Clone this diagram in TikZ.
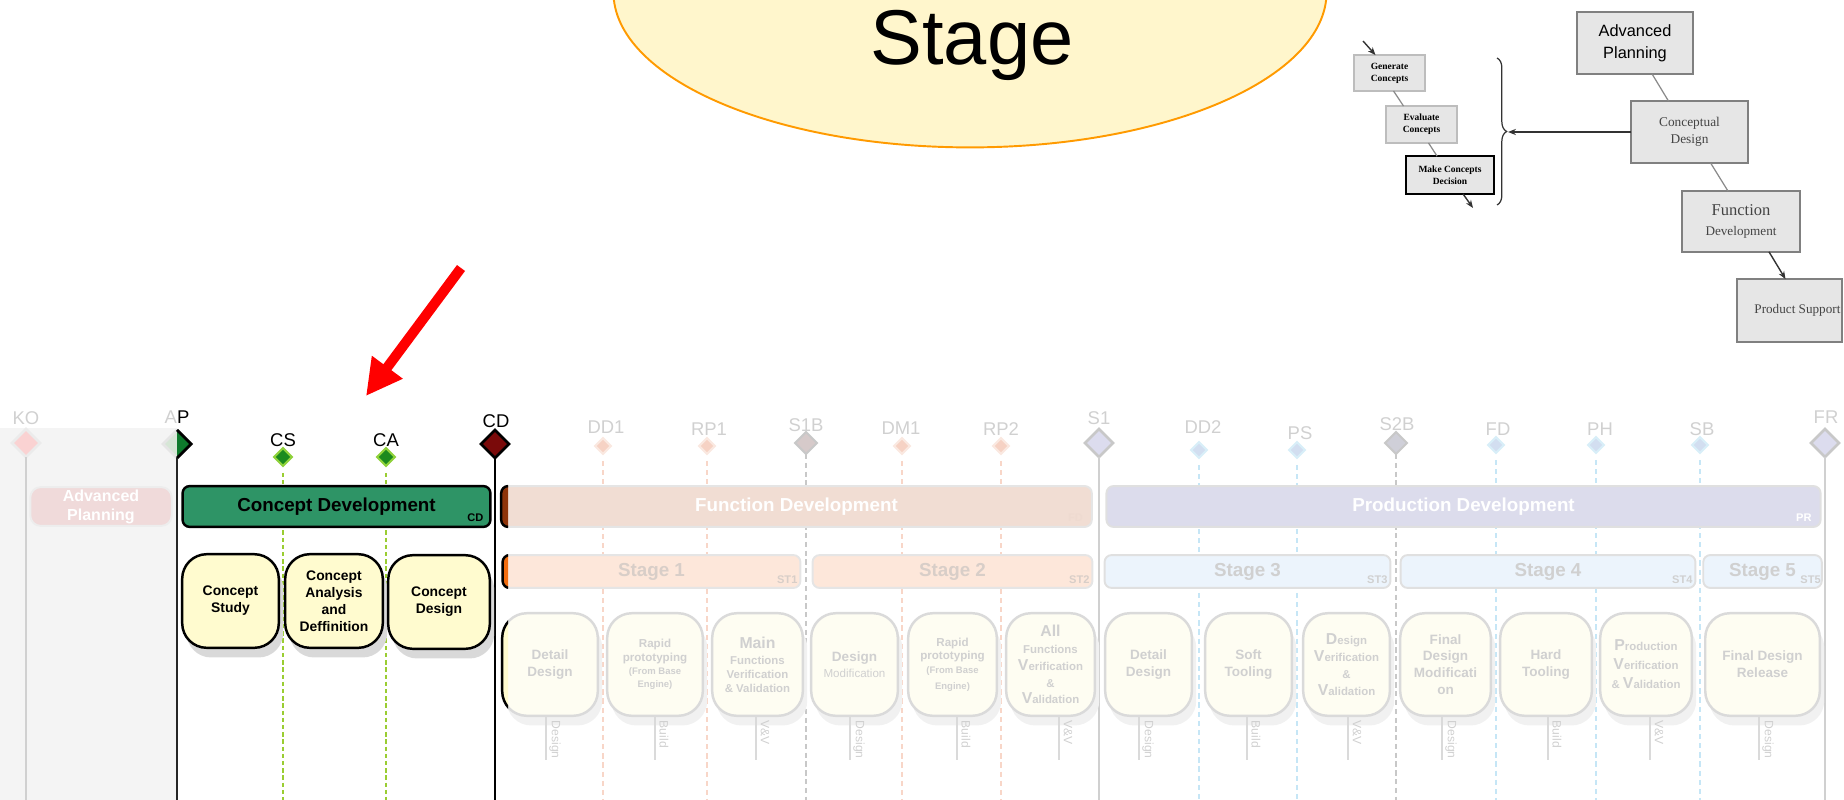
\documentclass[tikz,border=0pt]{standalone}
\usepackage{fontspec}
\setmainfont{Liberation Sans}
\newfontfamily\timesfam{Liberation Serif}
\usetikzlibrary{arrows.meta,shapes.geometric,decorations.pathreplacing,calc,shadows}

% palette
\definecolor{bubblefill}{HTML}{FFF6CC}
\definecolor{bubbleline}{HTML}{FF9A00}
\definecolor{cdgreen}{HTML}{2E9466}
\definecolor{msgreen}{HTML}{1B8A1E}
\definecolor{mslime}{HTML}{8ED13A}
\definecolor{dashgreen}{HTML}{9ACD32}
\definecolor{cdred}{HTML}{7A0A0A}
\definecolor{apgreen}{HTML}{0E7A2C}
\definecolor{apfade}{HTML}{D6E6D6}
\definecolor{actfill}{HTML}{FFFBCF}
\definecolor{panel}{HTML}{F4F4F4}
\definecolor{fadetext}{HTML}{D0D0D0}
\definecolor{fadeline}{HTML}{DADADA}
\definecolor{fadebox}{HTML}{FEFDF2}
\definecolor{fadeshadow}{HTML}{F1F1F1}
\definecolor{fdfill}{HTML}{F1DDD3}
\definecolor{fdtag}{HTML}{EEDAD0}
\definecolor{prfill}{HTML}{DCDCEC}
\definecolor{stwarm}{HTML}{FDE7DA}
\definecolor{stcool}{HTML}{ECF4FC}
\definecolor{stwarmtext}{HTML}{D8CEC8}
\definecolor{apbarfill}{HTML}{F0DADA}
\definecolor{kofill}{HTML}{FAD2D2}
\definecolor{salmonfill}{HTML}{F6D2C4}
\definecolor{salmonedge}{HTML}{FAE8E0}
\definecolor{salmondash}{HTML}{F8D6C8}
\definecolor{skyfill}{HTML}{D2DEF0}
\definecolor{skyedge}{HTML}{D8EEF8}
\definecolor{skydash}{HTML}{C6E6F6}
\definecolor{graydash}{HTML}{C8C8C8}
\definecolor{graysolid}{HTML}{D0D0D0}
\definecolor{s1bfill}{HTML}{D6CACA}
\definecolor{s2bfill}{HTML}{CFCFD8}
\definecolor{lavfill}{HTML}{DCDCEE}
\definecolor{boxgray}{HTML}{E6E6E6}
\definecolor{tline}{HTML}{808080}
\definecolor{sline}{HTML}{BDBDBD}
\definecolor{linkgray}{HTML}{8A8A8A}
\definecolor{ttext}{HTML}{444444}
\definecolor{fdbrown}{HTML}{8E340A}
\definecolor{storange}{HTML}{F26D10}

% box given by its corners (x1,y1)-(x2,y2) in picture units
\newcommand{\boxnode}[7]{%
  \pgfmathsetmacro\mybw{(#5-#3)*0.5669}%
  \pgfmathsetmacro\mybh{(#6-#4)*0.5669}%
  \node[#2, minimum width=\mybw pt, minimum height=\mybh pt] (#1) at ({(#3+#5)/2},{(#4+#6)/2}) {#7};}

\begin{document}
\begin{tikzpicture}[x=0.02cm, y=-0.02cm,
  every node/.style={inner sep=0pt, outer sep=0pt},
  msl/.style={font=\fontsize{10.5}{12}\selectfont},
  msf/.style={msl, text=fadetext},
  bigdia/.style={diamond, minimum width=16pt, minimum height=16pt, line width=1.5pt},
  meddia/.style={diamond, minimum width=12.5pt, minimum height=12.5pt, line width=1.2pt},
  smalldia/.style={diamond, minimum width=10pt, minimum height=10pt, line width=1.2pt},
  tinydia/.style={diamond, minimum width=9pt, minimum height=9pt, line width=1.2pt},
  kolin/.style={draw=graysolid, line width=1.6pt},
  aplin/.style={draw=black!85, line width=0.9pt},
  cdlin/.style={draw=black, line width=1.4pt},
  greendash/.style={draw=dashgreen, line width=1.4pt, dash pattern=on 2.5pt off 1.6pt},
  warmdash/.style={draw=salmondash, line width=1.2pt, dash pattern=on 3pt off 2.2pt},
  cooldash/.style={draw=skydash, line width=1.2pt, dash pattern=on 3pt off 2.2pt},
  greydash/.style={draw=graydash, line width=1.4pt, dash pattern=on 3pt off 2pt},
  greysolid/.style={draw=graysolid, line width=1.5pt},
  bar/.style={rectangle, rounded corners=4pt, line width=1.1pt, align=center,
    font=\bfseries\fontsize{10.7}{12}\selectfont},
  tag/.style={font=\bfseries\fontsize{6.3}{7}\selectfont, anchor=south east},
  actbase/.style={rectangle, rounded corners=14pt, line width=1.4pt, align=center},
  act/.style={actbase, fill=actfill, draw=black, font=\bfseries\fontsize{7.9}{9.6}\selectfont,
    general shadow={fill=black!15, shadow xshift=2.5pt, shadow yshift=-5.5pt}},
  fact/.style={actbase, fill=fadebox, draw=fadeline, text=fadetext,
    font=\bfseries\fontsize{7.7}{9.6}\selectfont,
    general shadow={fill=fadeshadow, shadow xshift=2.5pt, shadow yshift=-5.5pt}},
  stem/.style={draw=fadeline, line width=1.2pt},
  stemlab/.style={rotate=-90, anchor=west, text=fadetext, font=\fontsize{6.9}{8}\selectfont},
  tbox/.style={rectangle, fill=boxgray, draw=tline, line width=0.9pt, align=center},
  sbox/.style={rectangle, fill=boxgray, draw=sline, line width=1pt, align=center,
    font=\timesfam\bfseries\fontsize{5.4}{6.8}\selectfont},
  tlink/.style={draw=linkgray, line width=0.7pt},
  tarrow/.style={draw=black!80, line width=0.8pt, -{Stealth[length=4.5pt, width=3.5pt]}},
]
\useasboundingbox (0,0) rectangle (1844,800);
\clip (0,0) rectangle (1844,800);

% ---------------- title bubble ----------------
\node[ellipse, fill=bubblefill, draw=bubbleline, line width=1.1pt,
      minimum width=405.9pt, minimum height=176.9pt] (bubble) at (970,-8) {};
\node[anchor=base, font=\fontsize{44.2}{50}\selectfont] (stagetitle) at (972,65) {Stage};

% ---------------- pointer arrow ----------------
\coordinate (rtail) at (461,268);
\coordinate (rtip) at (366,396);
\draw[red, line width=5.7pt, -{Triangle[length=20.4pt, width=20.4pt]}] (rtail) -- (rtip);

% ---------------- process flow (top right) ----------------
\boxnode{tap}{tbox, font=\fontsize{9.3}{12.5}\selectfont}{1577}{12}{1693}{74}{Advanced\\Planning}
\boxnode{tcd}{tbox, text=ttext, font=\timesfam\fontsize{7.6}{9.6}\selectfont}{1631}{101}{1748}{163}{Conceptual\\Design}
\boxnode{tfd}{tbox, text=ttext, font=\timesfam\fontsize{7.5}{11.3}\selectfont}{1682}{191}{1800}{252}{{\fontsize{9.4}{11}\selectfont Function}\\Development}
\boxnode{tps}{tbox, text=ttext, font=\timesfam\fontsize{7.5}{9}\selectfont}{1737}{279}{1842}{342}{\hspace{9pt}Product Support}
\draw[tlink] ($(tap.south)+(17,0)$) -- ($(tcd.north)+(-21,0)$);
\draw[tlink] ($(tcd.south)+(21,0)$) -- ($(tfd.north)+(-13,0)$);
\draw[tarrow] ($(tfd.south)+(28,0)$) -- ($(tps.north)+(-4,0)$);

\boxnode{gen}{sbox}{1354}{55}{1425}{91}{Generate\\Concepts}
\boxnode{eva}{sbox}{1386}{106}{1457}{143}{Evaluate\\Concepts}
\boxnode{mak}{sbox, draw=black, line width=0.8pt}{1406}{156}{1494}{194}{Make Concepts\\Decision}
\coordinate (genin) at (1363,41);
\coordinate (makout) at (1473,208);
\draw[tarrow] (genin) -- ($(gen.north)+(-14,0)$);
\draw[tlink] ($(gen.south)+(4,0)$) -- ($(eva.north)+(-18,0)$);
\draw[tlink] ($(eva.south)+(7,0)$) -- ($(mak.north)+(-13,0)$);
\draw[tarrow] ($(mak.south)+(13,0)$) -- (makout);
\coordinate (bracetop) at (1497,58);
\coordinate (bracebot) at (1497,205);
\coordinate (bracetip) at (1508,132);
\draw[black!80, line width=0.7pt, decorate, decoration={brace, amplitude=5.5pt}] (bracetop) -- (bracebot);
\draw[tarrow] (tcd.west) -- (bracetip);

% ---------------- timeline ----------------
\fill[panel] (0,428) rectangle (177,800);

% milestone markers
\node[bigdia, fill=kofill, draw=black!8] (ko) at (26,443) {};
\node[bigdia] (ap) at (177,444) {};
\fill[apfade] (ap.north) -- (ap.west) -- (ap.south) -- cycle;
\draw[black!10, line width=1.5pt] (ap.north) -- (ap.west) -- (ap.south);
\fill[apgreen] (ap.north) -- (ap.east) -- (ap.south) -- cycle;
\draw[black, line width=1.6pt, line join=miter] (ap.north) -- (ap.east) -- (ap.south);
\node[smalldia, fill=msgreen, draw=mslime] (cs) at (283,457) {};
\node[smalldia, fill=msgreen, draw=mslime] (ca) at (386,457) {};
\node[bigdia, fill=cdred, draw=black] (cd) at (495,444) {};
\node[tinydia, fill=salmonfill, draw=salmonedge] (dd1) at (603,446) {};
\node[tinydia, fill=salmonfill, draw=salmonedge] (rp1) at (707,446) {};
\node[meddia, fill=s1bfill, draw=graydash] (s1b) at (806,443) {};
\node[tinydia, fill=salmonfill, draw=salmonedge] (dm1) at (902,446) {};
\node[tinydia, fill=salmonfill, draw=salmonedge] (rp2) at (1001,446) {};
\node[bigdia, fill=lavfill, draw=graydash] (s1) at (1099,443) {};
\node[tinydia, fill=skyfill, draw=skyedge] (dd2) at (1199,450) {};
\node[tinydia, fill=skyfill, draw=skyedge] (ps) at (1297,450) {};
\node[meddia, fill=s2bfill, draw=graydash] (s2b) at (1396,443) {};
\node[tinydia, fill=skyfill, draw=skyedge] (fd) at (1496,445) {};
\node[tinydia, fill=skyfill, draw=skyedge] (ph) at (1596,445) {};
\node[tinydia, fill=skyfill, draw=skyedge] (sb) at (1700,445) {};
\node[bigdia, fill=lavfill, draw=graydash] (fr) at (1825,443) {};

% milestone names
\node[msf] (ko-l) at (26,418) {KO};
\node[msl] (ap-l) at (177,417) {{\color{fadetext}A}P};
\node[msl] (cs-l) at (283,440) {CS};
\node[msl] (ca-l) at (386,440) {CA};
\node[msl] (cd-l) at (496,421) {CD};
\node[msf] (dd1-l) at (606,427) {DD1};
\node[msf] (rp1-l) at (709,429) {RP1};
\node[msf] (s1b-l) at (806,425) {S1B};
\node[msf] (dm1-l) at (901,428) {DM1};
\node[msf] (rp2-l) at (1001,429) {RP2};
\node[msf] (s1-l) at (1099,418) {S1};
\node[msf] (dd2-l) at (1203,427) {DD2};
\node[msf] (ps-l) at (1300,433) {PS};
\node[msf] (s2b-l) at (1397,424) {S2B};
\node[msf] (fd-l) at (1498,429) {FD};
\node[msf] (ph-l) at (1600,429) {PH};
\node[msf] (sb-l) at (1702,429) {SB};
\node[msf] (fr-l) at (1826,417) {FR};

% milestone lines
\foreach \m/\x in {ko/26,ap/177,cs/283,ca/386,cd/495,dd1/603,rp1/707,s1b/806,dm1/902,rp2/1001,
                   s1/1099,dd2/1199,ps/1297,s2b/1396,fd/1496,ph/1596,sb/1700,fr/1825}
  \coordinate (\m-end) at (\x,800);
\draw[kolin] (ko) -- (ko-end);
\draw[aplin] (ap) -- (ap-end);
\draw[greendash] ([yshift=-4pt]cs.south) -- (cs-end);
\draw[greendash] ([yshift=-4pt]ca.south) -- (ca-end);
\draw[cdlin] (cd) -- (cd-end);
\foreach \m in {dd1,rp1,dm1,rp2} \draw[warmdash] ([yshift=-4pt]\m.south) -- (\m-end);
\foreach \m in {dd2,ps,fd,ph,sb} \draw[cooldash] ([yshift=-4pt]\m.south) -- (\m-end);
\draw[greydash] (s1b) -- (s1b-end);
\draw[greydash] (s2b) -- (s2b-end);
\draw[greysolid] (s1) -- (s1-end);
\draw[greysolid] (fr) -- (fr-end);

% phase bars
\boxnode{apbar}{bar, rounded corners=6pt, fill=apbarfill, draw=black!7, text=white, font=\bfseries\fontsize{9.1}{10.8}\selectfont}{30}{487}{172}{526}{Advanced\\Planning}
\boxnode{cdbar}{bar, fill=cdgreen, draw=black, line width=1.4pt}{182}{486}{491}{527}{Concept Development}
\node[tag] (cdbar-t) at ($(cdbar.south east)+(-7,-5)$) {CD};
\boxnode{fdbar}{bar, fill=fdfill, draw=black!10, text=white}{500}{486}{1093}{527}{Function Development}
\node[tag, text=fdtag] (fdbar-t) at ($(fdbar.south east)+(-9,-5)$) {FD};
\boxnode{prbar}{bar, fill=prfill, draw=black!12, text=white}{1105}{486}{1822}{527}{Production Development}
\node[tag, text=white] (prbar-t) at ($(prbar.south east)+(-9,-5)$) {PR};

% stage bars
\boxnode{st1}{bar, fill=stwarm, draw=black!10, text=stwarmtext}{502}{555}{801}{588}{Stage 1}
\node[tag, text=stwarmtext] (st1-t) at ($(st1.south east)+(-3,-4)$) {ST1};
\boxnode{st2}{bar, fill=stwarm, draw=black!10, text=stwarmtext}{812}{555}{1093}{588}{Stage 2}
\node[tag, text=stwarmtext] (st2-t) at ($(st2.south east)+(-3,-4)$) {ST2};
\boxnode{st3}{bar, fill=stcool, draw=black!12, text=fadetext}{1104}{555}{1391}{588}{Stage 3}
\node[tag, text=fadetext] (st3-t) at ($(st3.south east)+(-3,-4)$) {ST3};
\boxnode{st4}{bar, fill=stcool, draw=black!12, text=fadetext}{1400}{555}{1696}{588}{Stage 4}
\node[tag, text=fadetext] (st4-t) at ($(st4.south east)+(-3,-4)$) {ST4};
\boxnode{st5}{bar, fill=stcool, draw=black!12, text=fadetext}{1703}{555}{1822}{588}{Stage 5}
\node[tag, text=fadetext] (st5-t) at ($(st5.south east)+(-1,-4)$) {ST5};

% concept development activities
\boxnode{c1}{act}{182}{554}{279}{648}{Concept\\Study}
\boxnode{c2}{act}{285}{554}{383}{648}{Concept\\Analysis\\and\\Deffinition}
\boxnode{c3}{act}{388}{555}{490}{649}{Concept\\Design}

% later activities
\boxnode{f1}{fact}{502}{613}{598}{716}{Detail\\Design}
\boxnode{f2}{fact, font=\bfseries\fontsize{6.6}{7.6}\selectfont}{607}{613}{703}{716}{Rapid\\prototyping\\{\fontsize{5.4}{6}\selectfont (From Base}\\{\fontsize{5.4}{6}\selectfont Engine)}}
\boxnode{f3}{fact, font=\bfseries\fontsize{6.5}{7.9}\selectfont}{712}{613}{803}{716}{{\fontsize{9}{10}\selectfont Main}\\[1.5pt]Functions\\Verification\\\& Validation}
\boxnode{f4}{fact}{811}{613}{898}{716}{Design\\[-0.5pt]{\mdseries\fontsize{6.6}{8}\selectfont Modification}}
\boxnode{f5}{fact, font=\bfseries\fontsize{6.6}{7.6}\selectfont}{908}{613}{997}{716}{Rapid\\prototyping\\{\fontsize{5.4}{6}\selectfont (From Base}\\[1.5pt]{\fontsize{5.4}{6}\selectfont Engine)}}
\boxnode{f6}{fact, font=\bfseries\fontsize{6.5}{9.6}\selectfont}{1006}{613}{1095}{716}{{\fontsize{9}{10}\selectfont All}\\Functions\\{\fontsize{9}{10}\selectfont V}erification\\\&\\{\fontsize{9}{10}\selectfont V}alidation}
\boxnode{f7}{fact}{1105}{613}{1192}{716}{Detail\\Design}
\boxnode{f8}{fact}{1205}{613}{1292}{716}{Soft\\Tooling}
\boxnode{f9}{fact, font=\bfseries\fontsize{6.5}{9.8}\selectfont}{1303}{613}{1390}{716}{{\fontsize{9}{10}\selectfont D}esign\\{\fontsize{9}{10}\selectfont V}erification\\\&\\{\fontsize{9}{10}\selectfont V}alidation}
\boxnode{f10}{fact}{1400}{613}{1491}{716}{Final\\Design\\Modificati\\on}
\boxnode{f11}{fact}{1500}{613}{1592}{716}{Hard\\Tooling}
\boxnode{f12}{fact, font=\bfseries\fontsize{6.5}{10.8}\selectfont}{1600}{613}{1692}{716}{{\fontsize{9}{10}\selectfont P}roduction\\{\fontsize{9}{10}\selectfont V}erification\\\& {\fontsize{9}{10}\selectfont V}alidation}
\boxnode{f13}{fact}{1705}{613}{1820}{716}{Final Design\\Release}

% left edges that stay in full colour
\begin{scope}
  \clip (497,480) rectangle (508,730);
  \boxnode{fdedge}{bar, fill=fdbrown, draw=black, line width=1.4pt}{500}{486}{1093}{527}{}
  \boxnode{st1edge}{bar, fill=storange, draw=black, line width=1.4pt}{502}{555}{801}{588}{}
  \boxnode{f1edge}{actbase, fill=actfill, draw=black}{502}{613}{598}{716}{}
\end{scope}

% activity type stems
\foreach \b/\x/\t in {f1/546/Design, f2/655/Build, f3/756/V\&V, f4/850/Design, f5/957/Build,
                      f6/1059/V\&V, f7/1139/Design, f8/1247/Build, f9/1348/V\&V, f10/1442/Design,
                      f11/1548/Build, f12/1650/V\&V, f13/1759/Design} {
  \coordinate (\b-stem) at (\x,760);
  \draw[stem] (\b-stem |- \b.south) -- (\b-stem);
  \node[stemlab] (\b-type) at ($(\b-stem |- \b.south)+(9,5)$) {\t};
}
\end{tikzpicture}
\end{document}
